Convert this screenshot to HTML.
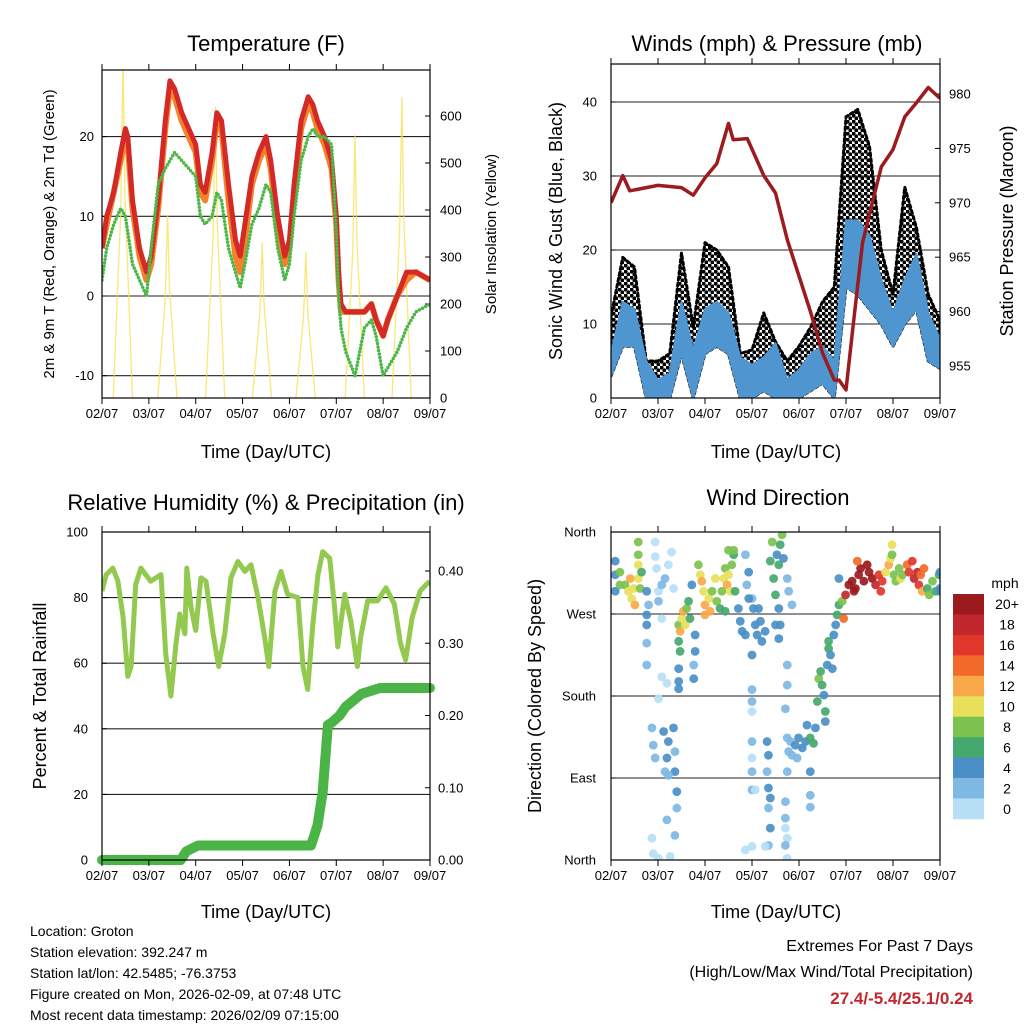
<!DOCTYPE html>
<html><head><meta charset="utf-8">
<style>
html,body{margin:0;padding:0;background:#fff;}
svg{display:block;font-family:"Liberation Sans",Arial,sans-serif;}
</style></head>
<body>
<svg id="fig" width="1024" height="1024" viewBox="0 0 1024 1024" xmlns="http://www.w3.org/2000/svg">
<defs>
<clipPath id="c1"><rect x="102" y="70" width="328" height="328"/></clipPath>
<clipPath id="c2"><rect x="611" y="64" width="329" height="334"/></clipPath>
<clipPath id="c3"><rect x="102" y="532" width="328" height="328"/></clipPath>
<clipPath id="c4"><rect x="611" y="532" width="329" height="328"/></clipPath>
<pattern id="dots" width="6" height="6" patternUnits="userSpaceOnUse">
<circle cx="1.5" cy="1.5" r="2.1" fill="#000"/><circle cx="4.5" cy="4.5" r="2.1" fill="#000"/>
</pattern>
</defs>
<g id="g1"></g>
<g id="g2"></g>
<g id="g3"></g>
<g id="g4"></g>
<g id="txt">
<text x="266" y="51" font-size="22" text-anchor="middle">Temperature (F)</text>
<text x="777" y="51" font-size="22" text-anchor="middle">Winds (mph) &amp; Pressure (mb)</text>
<text x="266" y="510" font-size="22" text-anchor="middle">Relative Humidity (%) &amp; Precipitation (in)</text>
<text x="778" y="505" font-size="22" text-anchor="middle">Wind Direction</text>
<text x="266" y="458" font-size="18" text-anchor="middle">Time (Day/UTC)</text>
<text x="776" y="458" font-size="18" text-anchor="middle">Time (Day/UTC)</text>
<text x="266" y="918" font-size="18" text-anchor="middle">Time (Day/UTC)</text>
<text x="776" y="918" font-size="18" text-anchor="middle">Time (Day/UTC)</text>
<text transform="translate(54,234) rotate(-90)" font-size="15" text-anchor="middle">2m &amp; 9m T (Red, Orange) &amp; 2m Td (Green)</text>
<text transform="translate(496,234) rotate(-90)" font-size="15" text-anchor="middle">Solar Insolation (Yellow)</text>
<text transform="translate(562,231) rotate(-90)" font-size="18" text-anchor="middle">Sonic Wind &amp; Gust (Blue, Black)</text>
<text transform="translate(1013,231) rotate(-90)" font-size="18" text-anchor="middle">Station Pressure (Maroon)</text>
<text transform="translate(46,696) rotate(-90)" font-size="18" text-anchor="middle">Percent &amp; Total Rainfall</text>
<text transform="translate(541,696) rotate(-90)" font-size="18" text-anchor="middle">Direction (Colored By Speed)</text>
<g font-size="14">
<text x="30" y="936">Location: Groton</text>
<text x="30" y="957">Station elevation: 392.247 m</text>
<text x="30" y="978">Station lat/lon: 42.5485; -76.3753</text>
<text x="30" y="999">Figure created on Mon, 2026-02-09, at 07:48 UTC</text>
<text x="30" y="1020">Most recent data timestamp: 2026/02/09 07:15:00</text>
</g>
<text x="973" y="951" font-size="16" text-anchor="end">Extremes For Past 7 Days</text>
<text x="973" y="977" font-size="16" text-anchor="end">(High/Low/Max Wind/Total Precipitation)</text>
<text x="973" y="1004" font-size="17" font-weight="bold" fill="#c1272d" text-anchor="end">27.4/-5.4/25.1/0.24</text>
</g>
</svg>
<script>
// ---- data ----
const dayLabels=["02/07","03/07","04/07","05/07","06/07","07/07","08/07","09/07"];
const tempT=[0,0.1,0.25,0.4,0.5,0.55,0.65,0.8,0.95,1.05,1.2,1.35,1.45,1.55,1.7,1.85,2.0,2.1,2.2,2.35,2.45,2.55,2.7,2.85,2.95,3.05,3.2,3.35,3.5,3.6,3.75,3.9,4.0,4.1,4.25,4.4,4.5,4.6,4.75,4.9,5.0,5.05,5.1,5.2,5.4,5.6,5.75,5.85,6.0,6.1,6.3,6.5,6.7,7.0];
const tempRed=[6,10,13,18,21,20,12,6,3,5,12,22,27,26,23,21,19,14,13,18,23,22,14,7,5,9,15,18,20,17,10,5,7,14,22,25,24,22,20,17,10,3,-1,-2,-2,-2,-1,-3,-5,-3,0,3,3,2];
const tempOrange=[6,9,13,17,20,19,11,5,2,4,11,21,26,25,22,20,18,13,12,17,22,21,12,5,3,7,14,17,19,16,8,4,6,13,21,24,23,21,19,16,9,2,-2,-2,-2,-2,-1,-3,-5,-3,0,2,3,2];
const tempDew=[2,6,9,11,10,8,4,2,0,6,14,16,17,18,17,16,15,10,9,10,13,12,6,3,1,4,9,11,14,13,6,2,4,10,17,20,21,20,20,19,8,0,-4,-7,-10,-4,-3,-5,-10,-9,-7,-4,-2,-1];
const solarPeakT=[0.45,1.40,2.42,3.42,4.35,5.40,6.40];
const solarPeak=[720,390,620,330,310,560,640];
const tempTicks=[-10,0,10,20];
const solarTicks=[0,100,200,300,400,500,600];

const windT=[0,0.25,0.5,0.75,1,1.25,1.5,1.75,2,2.25,2.5,2.75,3,3.25,3.5,3.75,4,4.25,4.5,4.75,5,5.25,5.5,5.75,6,6.25,6.5,6.75,7];
const gustHi=[11,19,17.7,5,5,6,19.6,9.6,21,20,17.7,6,6.5,11.5,7.6,5,7,9.6,13,15,38,39,34,20,14,28.5,23,14,10.5];
const windHi=[6,13,12,5,2.4,3.4,13,6.5,12,13,11.5,5.5,4.5,5.5,7.4,2.5,3.8,6,7,5,24,24,22,16,11.5,16,19.5,11.5,8];
const windLo=[3,7,7,0,0,0,6,0,6,7,6,0,0,1,0,0,0,1,2,0,15,14,12,10,7,10,12,5,4];
const presT=[0,0.25,0.4,1.0,1.5,1.75,2.0,2.25,2.5,2.6,2.9,3.25,3.5,3.75,4.25,4.5,4.75,4.85,5.0,5.15,5.35,5.5,5.75,6.0,6.25,6.5,6.75,7.0];
const presV=[970,972.5,971.1,971.6,971.4,970.7,972.3,973.6,977.3,975.8,975.9,972.5,970.9,966.6,959.9,956.2,953.7,953.7,952.8,958.6,966.3,969,973.3,974.9,977.9,979.2,980.6,979.6];
const windTicks=[0,10,20,30,40];
const presTicks=[955,960,965,970,975,980];

const rhT=[0,0.09,0.23,0.34,0.45,0.55,0.62,0.72,0.83,1.04,1.26,1.36,1.47,1.58,1.66,1.77,1.81,1.9,2.0,2.11,2.22,2.37,2.49,2.62,2.75,2.9,3.05,3.18,3.33,3.47,3.56,3.69,3.82,3.96,4.18,4.29,4.39,4.5,4.61,4.71,4.86,4.97,5.03,5.18,5.31,5.45,5.52,5.67,5.88,6.06,6.24,6.37,6.48,6.62,6.79,6.99];
const rhV=[82,87,89,85,74,56,59,84,89,85,87,63,50,66,75,69,89,77,70,86,85,69,59,69,86,91,88,90,80,68,59,82,88,81,80,59,52,72,87,94,92,76,65,81,73,59,68,79,79,83,78,66,61,74,82,85];
const rainT=[0,1.68,1.8,2.05,4.46,4.6,4.71,4.82,4.9,5.07,5.2,5.54,5.93,7.0];
const rainV=[0,0,0.012,0.02,0.02,0.048,0.094,0.187,0.19,0.20,0.212,0.23,0.238,0.238];
const rhTicks=[0,20,40,60,80,100];
const rainTicks=[0,0.1,0.2,0.3,0.4];

const dirT=[0.09,0.09,0.09,0.19,0.19,0.30,0.37,0.41,0.44,0.51,0.48,0.58,0.58,0.58,0.58,0.62,0.65,
0.76,0.76,0.76,0.76,0.76,0.80,
0.94,0.94,0.97,1.01,1.08,1.15,1.22,1.29,1.33,1.01,1.08,1.01,1.08,1.19,
0.87,0.90,0.94,1.12,1.19,1.15,1.22,1.33,1.36,1.36,1.40,1.40,1.22,1.19,1.36,0.87,0.90,1.26,1.01,
1.44,1.47,1.51,1.54,1.58,1.61,1.65,1.44,1.47,1.44,1.44,1.44,1.72,1.68,1.79,1.79,1.76,1.76,
1.86,1.90,1.93,1.97,2.00,2.08,2.11,2.15,2.22,2.25,2.32,2.36,2.40,2.43,2.47,2.50,2.54,2.57,2.61,2.50,2.61,2.64,2.43,2.00,
2.71,2.75,2.79,2.86,2.89,2.93,3.00,3.03,3.07,3.11,3.14,3.18,3.21,3.28,2.93,2.86,3.00,3.00,3.00,3.00,3.00,3.00,3.00,3.00,3.07,3.00,2.86,
3.32,3.35,3.32,3.35,3.39,3.35,3.39,3.35,3.28,
3.39,3.43,3.46,3.50,3.53,3.57,3.60,3.64,3.67,3.57,3.60,3.50,3.57,3.75,3.78,3.85,3.75,3.75,3.71,3.75,3.78,3.75,3.71,3.71,3.71,3.75,3.71,3.75,
3.82,3.85,3.92,3.96,3.99,4.07,4.14,4.17,4.24,4.31,4.35,4.24,4.24,4.24,
4.39,4.42,4.46,4.49,4.53,4.56,4.56,4.60,4.63,4.63,4.67,4.71,4.74,4.78,4.81,4.85,4.85,4.92,4.95,
4.99,5.06,5.13,5.20,5.27,5.31,5.38,5.45,5.49,5.56,5.63,5.70,5.77,5.24,5.74,5.17,
5.84,5.91,5.95,5.98,5.98,6.02,6.06,6.13,6.16,6.20,
6.30,6.34,6.41,6.45,6.52,6.55,6.59,6.66,6.62,
6.73,6.77,6.84,6.91,6.98,7.0,7.0,7.0];
const dirV=[328,313,295,316,302,302,295,309,287,280,298,349,335,324,309,298,316,
295,269,258,238,214,280,
349,333,320,295,302,309,324,338,298,284,265,177,201,194,
145,126,112,141,112,97,130,145,119,97,75,57,93,44,27,24,7,4,2,
258,251,265,273,258,276,284,240,229,210,196,188,302,265,247,229,214,199,
324,313,306,295,280,287,273,295,309,284,276,295,309,320,302,313,295,324,335,340,340,295,273,269,
276,262,251,335,302,316,287,276,258,247,276,262,240,251,287,247,225,187,174,163,130,112,97,77,77,15,11,
130,115,97,79,68,57,35,16,15,
328,349,309,291,335,324,346,357,331,276,258,258,243,309,295,280,214,192,166,134,119,97,64,46,35,24,16,2,
130,115,126,112,134,123,130,148,134,128,145,97,71,58,
174,199,207,192,181,163,152,214,232,240,225,210,247,258,269,280,309,284,265,
291,302,306,298,313,320,306,324,316,309,302,313,306,328,295,295,
316,324,331,346,335,313,306,320,309,313,
324,316,328,309,316,302,313,320,295,
298,291,306,295,313,298,316,295];
const dirS=[4,4,4,7,7,8,10,12,10,12,9,7,8,10,9,8,6,
4,3,3,2,2,2,
0,0,0,0,1,1,0,0,0,2,0,0,0,0,
2,2,2,3,3,2,3,4,2,3,3,2,2,1,1,0,0,0,0,
8,12,10,12,9,7,6,6,5,4,4,4,4,6,4,3,2,3,
8,10,12,10,12,10,12,8,9,7,6,8,10,8,11,10,9,7,6,8,7,6,6,11,
4,4,4,2,1,3,2,4,3,3,4,3,4,3,4,3,4,1,1,0,1,0,1,1,0,0,0,
4,3,2,3,3,1,4,1,0,
6,7,6,6,4,5,6,7,4,4,4,3,4,2,2,2,1,1,1,2,2,1,1,1,0,0,2,0,
2,2,3,2,3,4,4,4,5,6,3,3,2,1,
6,7,6,6,4,5,4,4,5,6,3,3,4,3,6,6,4,8,14,
18,20,20,20,20,20,20,20,20,20,18,16,16,14,15,20,
10,12,10,10,8,8,7,8,9,8,
14,16,16,18,18,16,14,13,12,
6,7,8,6,5,4,4,4];
const speedLabels=["0","2","4","6","8","10","12","14","16","18","20+"];
const speedColors=["#b7e0f7","#7eb9e4","#4a8fc6","#45a86e","#7cc24e","#e8e05a","#f9a849","#f26a2a","#e0362c","#c1272d","#9a1a1e"];
const dirTicks=[0,90,180,270,360];
const dirTickLabels=["North","East","South","West","North"];

// ---- helpers ----
const NS="http://www.w3.org/2000/svg";
function mk(parent,tag,attrs){const e=document.createElementNS(NS,tag);for(const k in attrs)e.setAttribute(k,attrs[k]);parent.appendChild(e);return e;}
function pathD(xs,ys,fx,fy){return xs.map((t,i)=>(i?"L":"M")+fx(t).toFixed(1)+","+fy(ys[i]).toFixed(1)).join("");}

function frame(g,x0,y0,w,h,xs){
  for(let d=0;d<=7;d++){
    const x=xs(d);
    const tk=mk(g,"line",{x1:x,x2:x,y1:y0+h,y2:y0+h+6,stroke:"#000","stroke-width":1});
    
    
    mk(g,"line",{x1:x,x2:x,y1:y0,y2:y0-6,stroke:"#000","stroke-width":1});
    const lb=mk(g,"text",{x:x,y:y0+h+20,"font-size":13,"text-anchor":"middle"});
    lb.textContent=dayLabels[d];
    
    
  }
}
function box(g,x0,y0,w,h){
  const b=mk(g,"rect",{x:x0,y:y0,width:w,height:h,fill:"none",stroke:"#000","stroke-width":1.2});
  
  
}
function grid(g,x0,w,y){
  const l=mk(g,"line",{x1:x0,x2:x0+w,y1:y,y2:y,stroke:"#222","stroke-width":1.1});
  
  
}
function ylab(g,x,y,txt,anchor){
  const t=mk(g,"text",{x:x,y:y+4.5,"font-size":13,"text-anchor":anchor});
  t.textContent=txt;
  
  
}
function ytick(g,x,y,dir){mk(g,"line",{x1:x,x2:x+dir*5,y1:y,y2:y,stroke:"#000","stroke-width":1});}

// ---- Panel 1: temperature ----
(function(){
  const g=document.getElementById("g1");
  const X=t=>102+t*328/7, Y=v=>296-v*7.97, YS=v=>398-v*0.47;
  tempTicks.forEach(v=>{ grid(g,102,328,Y(v)); ylab(g,94,Y(v),String(v),"end"); ytick(g,102,Y(v),1);});
  solarTicks.forEach(v=>{ylab(g,440,YS(v),String(v),"start"); ytick(g,430,YS(v),-1);});
  const cg=mk(g,"g",{"clip-path":"url(#c1)"});
  solarPeakT.forEach((pt,i)=>{
    const s=mk(cg,"path",{d:`M${X(pt-0.21)},398 L${X(pt-0.05)},${YS(solarPeak[i]*0.55)} L${X(pt)},${YS(solarPeak[i])} L${X(pt+0.04)},${YS(solarPeak[i]*0.6)} L${X(pt+0.2)},398`,fill:"none",stroke:"#f7df4a","stroke-width":1.3,opacity:0.75});
    
    
  });
  const o=mk(cg,"path",{d:pathD(tempT,tempOrange,X,Y),fill:"none",stroke:"#f5822a","stroke-width":6,"stroke-linejoin":"round"});
  
  
  const r=mk(cg,"path",{d:pathD(tempT,tempRed,X,Y),fill:"none",stroke:"#d42a27","stroke-width":5,"stroke-linejoin":"round"});
  
  
  const dw=mk(cg,"path",{d:pathD(tempT,tempDew,X,Y),fill:"none",stroke:"#4cb848","stroke-width":3.5,"stroke-linecap":"round","stroke-dasharray":"0 3.5"});
  
  
  box(g,102,70,328,328); frame(g,102,70,328,328,X);
})();

// ---- Panel 2: winds ----
(function(){
  const g=document.getElementById("g2");
  const X=t=>611+t*329/7, Y=v=>398-v*7.4, YP=p=>366-(p-955)*10.88;
  windTicks.forEach(v=>{ if(v>0) grid(g,611,329,Y(v)); ylab(g,597,Y(v),String(v),"end"); ytick(g,611,Y(v),1);});
  presTicks.forEach(v=>{ylab(g,949,YP(v),String(v),"start"); ytick(g,940,YP(v),-1);});
  const cg=mk(g,"g",{"clip-path":"url(#c2)"});
  let d="M"+windT.map((t,i)=>X(t)+","+Y(gustHi[i])).join("L")+"L"+windT.map((t,i)=>X(t)+","+Y(windLo[i])).reverse().join("L")+"Z";
  const gp=mk(cg,"path",{d:d,fill:"url(#dots)",stroke:"#000","stroke-width":3,"stroke-dasharray":"3 3","stroke-linecap":"round","stroke-linejoin":"round"});
  
  
  d="M"+windT.map((t,i)=>X(t)+","+Y(windHi[i])).join("L")+"L"+windT.map((t,i)=>X(t)+","+Y(windLo[i])).reverse().join("L")+"Z";
  const wp=mk(cg,"path",{d:d,fill:"#4f96d1",stroke:"#4f96d1","stroke-width":2,"stroke-linejoin":"round"});
  
  
  const pl=mk(cg,"path",{d:pathD(presT,presV,X,YP),fill:"none",stroke:"#9b1b1e","stroke-width":3.5,"stroke-linejoin":"round"});
  
  
  box(g,611,64,329,334); frame(g,611,64,329,334,X);
})();

// ---- Panel 3: humidity & rain ----
(function(){
  const g=document.getElementById("g3");
  const X=t=>102+t*328/7, Y=v=>860-v*3.28, YR=v=>860-v*722.5;
  rhTicks.forEach(v=>{ if(v>0&&v<100) grid(g,102,328,Y(v)); ylab(g,88,Y(v),String(v),"end"); ytick(g,102,Y(v),1);});
  rainTicks.forEach(v=>{ylab(g,438,YR(v),v.toFixed(2),"start"); ytick(g,430,YR(v),-1);});
  const cg=mk(g,"g",{"clip-path":"url(#c3)"});
  const rh=mk(cg,"path",{d:pathD(rhT,rhV,X,Y),fill:"none",stroke:"#93c94e","stroke-width":5,"stroke-linejoin":"round"});
  
  
  const rn=mk(g,"path",{d:pathD(rainT,rainV,X,YR),fill:"none",stroke:"#4ab546","stroke-width":10,"stroke-linejoin":"round","stroke-linecap":"round"});
  
  
  box(g,102,532,328,328); frame(g,102,532,328,328,X);
})();

// ---- Panel 4: wind direction ----
(function(){
  const g=document.getElementById("g4");
  const X=t=>611+t*329/7, Y=d=>860-d*328/360;
  dirTicks.forEach((v,i)=>{ if(v>0&&v<360) grid(g,611,329,Y(v)); ylab(g,596,Y(v),dirTickLabels[i],"end"); ytick(g,611,Y(v),1);});
  const cg=mk(g,"g",{"clip-path":"url(#c4)"});
  dirT.forEach((t,i)=>{
    const ci=Math.min(10,Math.round(dirS[i]/2));
    const c=mk(cg,"circle",{cx:X(t),cy:Y(dirV[i]),r:4.4,fill:speedColors[ci],opacity:0.92});
    
    
  });
  box(g,611,532,329,328); frame(g,611,532,329,328,X);
  const cb=mk(g,"g",{});
  
  
  const t0=mk(cb,"text",{x:1005,y:588,"font-size":14,"text-anchor":"middle"}); t0.textContent="mph";
  
  
  const n=speedLabels.length, h=225/n;
  for(let k=0;k<n;k++){
    const idx=n-1-k, y=594+k*h;
    const r=mk(cb,"rect",{x:953,y:y,width:31,height:h+0.3,fill:speedColors[idx]});
    
    
    const lt=mk(cb,"text",{x:1007,y:y+h/2+5,"font-size":14,"text-anchor":"middle"});
    lt.textContent=speedLabels[idx];
    
    
  }
})();
</script>
</body></html>
